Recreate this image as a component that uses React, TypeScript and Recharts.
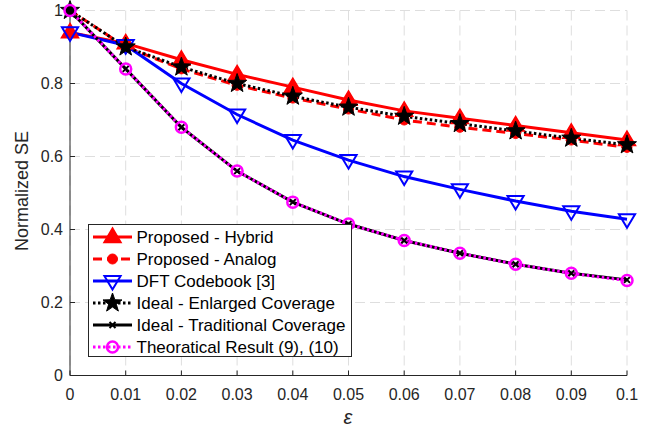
import React from "react";
import { LineChart, Line, XAxis, YAxis, CartesianGrid } from "recharts";

// epsilon values on the x axis
const eps = [0, 0.01, 0.02, 0.03, 0.04, 0.05, 0.06, 0.07, 0.08, 0.09, 0.1];

const hybrid = [0.94, 0.91, 0.865, 0.825, 0.79, 0.755, 0.725, 0.705, 0.685, 0.665, 0.645];
const analog = [1.0, 0.9, 0.84, 0.795, 0.76, 0.73, 0.7, 0.68, 0.663, 0.645, 0.625];
const dft = [0.94, 0.905, 0.8, 0.715, 0.645, 0.59, 0.545, 0.51, 0.478, 0.45, 0.428];
const enlarged = [1.0, 0.9, 0.845, 0.8, 0.765, 0.735, 0.71, 0.69, 0.67, 0.65, 0.632];
const traditional = [1.0, 0.84, 0.68, 0.56, 0.475, 0.415, 0.37, 0.335, 0.305, 0.28, 0.262];
const theoretical = [1.0, 0.84, 0.68, 0.56, 0.475, 0.415, 0.37, 0.335, 0.305, 0.28, 0.26];

const xTicks = [0, 0.01, 0.02, 0.03, 0.04, 0.05, 0.06, 0.07, 0.08, 0.09, 0.1];
const yTicks = [0, 0.2, 0.4, 0.6, 0.8, 1];

const data = eps.map((e, i) => ({
  eps: e,
  hybrid: hybrid[i],
  analog: analog[i],
  dft: dft[i],
  enlarged: enlarged[i],
  traditional: traditional[i],
  theoretical: theoretical[i],
}));

type Shape = "tri" | "dot" | "tridown" | "star" | "x" | "ring";

const series: {
  key: string;
  name: string;
  color: string;
  dash?: string;
  shape: Shape;
}[] = [
  { key: "hybrid", name: "Proposed - Hybrid", color: "#ff0000", shape: "tri" },
  { key: "analog", name: "Proposed - Analog", color: "#ff0000", dash: "9 5", shape: "dot" },
  { key: "dft", name: "DFT Codebook [3]", color: "#0000ff", shape: "tridown" },
  { key: "enlarged", name: "Ideal - Enlarged Coverage", color: "#000000", dash: "2.5 2.5", shape: "star" },
  { key: "traditional", name: "Ideal - Traditional Coverage", color: "#000000", shape: "x" },
  { key: "theoretical", name: "Theoratical Result (9), (10)", color: "#ff00ff", dash: "2.5 2.5", shape: "ring" },
];

const font = "'Liberation Sans', Arial, Helvetica, sans-serif";
const axisColor = "#262626";

function marker(shape: Shape, color: string, cx: number, cy: number) {
  switch (shape) {
    case "tri": {
      const r = 9;
      const pts = `${cx},${cy - r} ${cx + r * 0.95},${cy + r * 0.6} ${cx - r * 0.95},${cy + r * 0.6}`;
      return <polygon points={pts} fill={color} stroke={color} strokeWidth={1.5} />;
    }
    case "dot":
      return <circle cx={cx} cy={cy} r={5} fill={color} stroke={color} />;
    case "tridown": {
      const r = 8.5;
      const pts = `${cx},${cy + r} ${cx + r * 0.95},${cy - r * 0.6} ${cx - r * 0.95},${cy - r * 0.6}`;
      return <polygon points={pts} fill="none" stroke={color} strokeWidth={2} />;
    }
    case "star": {
      const ro = 10;
      const ri = 4;
      const p: string[] = [];
      for (let k = 0; k < 10; k++) {
        const r = k % 2 === 0 ? ro : ri;
        const a = -Math.PI / 2 + (k * Math.PI) / 5;
        p.push(`${cx + r * Math.cos(a)},${cy + r * Math.sin(a)}`);
      }
      return <polygon points={p.join(" ")} fill={color} stroke={color} strokeWidth={1} />;
    }
    case "x":
      return (
        <path
          d={`M${cx - 3},${cy - 3}L${cx + 3},${cy + 3}M${cx - 3},${cy + 3}L${cx + 3},${cy - 3}`}
          stroke={color}
          strokeWidth={2}
        />
      );
    case "ring":
      return <circle cx={cx} cy={cy} r={5.5} fill="none" stroke={color} strokeWidth={2.5} />;
  }
}

const fmtX = (v: number) => (v === 0 ? "0" : String(Number(v.toFixed(2))));
const fmtY = (v: number) => (v === 0 ? "0" : String(Number(v.toFixed(1))));

export default function App() {
  const legendTop = 224;
  const rowH = 22;
  return (
    <div style={{ position: "fixed", left: 0, top: 0, width: 662, height: 430, background: "#fff" }}>
      <LineChart
        width={662}
        height={430}
        data={data}
        margin={{ top: 10.5, right: 35, left: 0, bottom: 0 }}
      >
        <CartesianGrid stroke="#dedede" strokeDasharray="10 5" />
        <XAxis
          dataKey="eps"
          type="number"
          domain={[0, 0.1]}
          ticks={xTicks}
          interval={0}
          height={54.5}
          tickSize={-5}
          tickMargin={18}
          tickFormatter={fmtX}
          stroke={axisColor}
          tick={{ fill: axisColor, fontSize: 16, fontFamily: font }}
        />
        <XAxis
          xAxisId="top"
          orientation="top"
          dataKey="eps"
          type="number"
          domain={[0, 0.1]}
          ticks={xTicks}
          interval={0}
          height={0}
          tickSize={-5}
          tick={false}
          stroke={axisColor}
        />
        <YAxis
          type="number"
          domain={[0, 1]}
          ticks={yTicks}
          interval={0}
          width={70}
          tickSize={-5}
          tickMargin={12}
          tickFormatter={fmtY}
          stroke={axisColor}
          tick={{ fill: axisColor, fontSize: 16, fontFamily: font }}
        />
        <YAxis
          yAxisId="right"
          orientation="right"
          type="number"
          domain={[0, 1]}
          ticks={yTicks}
          interval={0}
          width={0}
          tickSize={-5}
          tick={false}
          stroke={axisColor}
        />
        {series.map((s) => (
          <Line
            key={s.key}
            dataKey={s.key}
            name={s.name}
            type="linear"
            stroke={s.color}
            strokeWidth={3}
            strokeDasharray={s.dash}
            isAnimationActive={false}
            dot={(p: any) => <g key={`${s.key}-${p.index}`}>{marker(s.shape, s.color, p.cx, p.cy)}</g>}
            activeDot={false}
          />
        ))}
      </LineChart>
      <svg
        width={662}
        height={430}
        style={{ position: "absolute", left: 0, top: 0, pointerEvents: "none" }}
      >
        <text
          x={21.5}
          y={191}
          transform="rotate(-90 21.5 191)"
          textAnchor="middle"
          dominantBaseline="central"
          fontFamily={font}
          fontSize={18}
          fill={axisColor}
        >
          Normalized SE
        </text>
        <text
          x={348}
          y={417}
          textAnchor="middle"
          dominantBaseline="central"
          fontFamily={font}
          fontStyle="italic"
          fontSize={20}
          fill={axisColor}
        >
          ε
        </text>
        <rect x={88.5} y={legendTop + 0.5} width={263} height={132} fill="#fff" stroke={axisColor} strokeWidth={1} />
        {series.map((s, i) => {
          const cy = legendTop + 13 + i * rowH;
          return (
            <g key={s.key}>
              <line x1={93} x2={132} y1={cy} y2={cy} stroke={s.color} strokeWidth={3} strokeDasharray={s.dash} />
              {marker(s.shape, s.color, 112.5, cy)}
              <text x={136.5} y={cy} dominantBaseline="central" fontFamily={font} fontSize={17} fill="#000">
                {s.name}
              </text>
            </g>
          );
        })}
      </svg>
    </div>
  );
}
